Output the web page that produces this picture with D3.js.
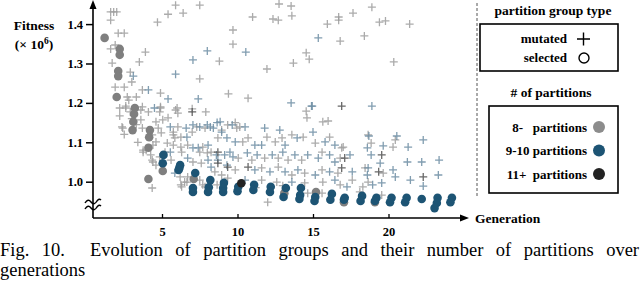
<!DOCTYPE html>
<html>
<head>
<meta charset="utf-8">
<script src="https://cdn.jsdelivr.net/npm/d3@7"></script>
<style>
  body { margin: 0; background: #fff; }
  svg text { font-family: "Liberation Serif", "Times New Roman", serif; }
</style>
</head>
<body>
<div id="svganchor"></div>
<script>
let width = 640, height = 282;

// x and y ticks
let genTicks = [5, 10, 15, 20];
let fitTicks = [1.0, 1.1, 1.2, 1.3, 1.4];

// mutated partition groups: [generation, fitness (x 10^6)]
let mutGray = [
  [1.6,1.431],[1.8,1.431],[2.0,1.431],[1.6,1.41],[2.1,1.377],[2.5,1.377],[1.6,1.337],[1.9,1.347],
  [3.9,1.329],[1.7,1.301],[3.5,1.304],[4.7,1.405],[5.4,1.425],[6.4,1.428],[5.9,1.448],[7.5,1.448],
  [9.7,1.385],[9.7,1.349],[8.8,1.306],[7.5,1.261],[9.4,1.223],[1.9,1.24],[2.5,1.24],[3.0,1.253],
  [2.9,1.278],[3.7,1.233],[4.9,1.225],[2.7,1.215],[2.8,1.207],[3.3,1.215],[2.6,1.192],[3.7,1.19],
  [4.9,1.19],[6.0,1.187],[7.0,1.185],[12.75,1.451],[13.55,1.446],[11.0,1.418],[12.35,1.413],
  [12.7,1.41],[13.6,1.421],[11.95,1.286],[13.7,1.301],[14.55,1.327],[14.75,1.311],[15.95,1.4],
  [16.7,1.418],[16.7,1.41],[16.8,1.357],[10.7,1.212],[17.65,1.428],[18.9,1.443],[19.4,1.405],
  [19.8,1.408],[21.4,1.4],[18.4,1.37],[20.35,1.304],
  [2.2,1.187],[2.6,1.187],[2.9,1.177],[3.6,1.182],[4.1,1.177],[4.9,1.187],[4.85,1.177],[5.9,1.182],
  [6.05,1.174],[7.9,1.177],[2.4,1.136],[3.7,1.136],[3.6,1.157],[4.6,1.152],[5.05,1.157],[5.4,1.162],
  [4.75,1.136],[4.95,1.124],[5.75,1.126],[6.05,1.139],[7.85,1.136],[6.25,1.113],[5.85,1.111],
  [4.6,1.101],[4.4,1.093],[3.75,1.08],[3.95,1.08],[4.25,1.068],[4.4,1.05],[4.6,1.042],[5.75,1.093],
  [6.25,1.088],[6.7,1.093],[7.7,1.088],[8.25,1.075],[7.05,1.05],[7.6,1.047],[8.5,1.025],[6.2,1.012],
  [6.25,0.992],[6.5,0.999],[6.7,1.012],[7.5,1.004],[7.7,0.992],[4.35,0.984],[4.85,1.063],[2.35,1.139],
  [2.2,1.167],[4.35,1.119],[3.75,1.075],[4.35,1.055],[5.35,1.098],[5.75,1.119],[6.3,1.075],[7.0,1.126],
  [7.3,1.139],[8.95,1.131],[9.95,1.136],[7.5,1.075],[8.0,1.073],[8.95,1.017],[8.65,0.992],[7.85,0.987],
  [6.65,0.999],[6.3,0.987],[3.0,1.16],[3.3,1.145],[2.5,1.12],[3.4,1.1],[5.2,1.075],[5.6,1.055],
  [14.55,1.179],[14.6,1.162],[15.65,1.152],[16.0,1.154],[9.35,1.144],[9.85,1.15],[10.15,1.139],
  [8.7,1.111],[10.35,1.101],[10.7,1.111],[11.95,1.113],[12.5,1.101],[12.95,1.111],[13.6,1.119],
  [14.35,1.113],[15.15,1.098],[16.1,1.113],[16.9,1.086],[10.05,1.06],[10.95,1.055],[11.8,1.06],
  [12.7,1.06],[13.35,1.055],[14.25,1.055],[15.6,1.075],[16.8,1.06],[9.85,1.03],[11.6,1.035],
  [12.7,1.037],[13.6,1.017],[14.45,1.022],[15.6,1.03],[16.65,1.022],[9.35,1.009],[11.6,1.004],
  [12.6,0.999],[14.45,0.997],[15.65,0.999],[16.8,0.992],[12.0,0.948],[15.6,0.971],[14.65,0.971],
  [18.85,1.098],[20.45,1.106],[20.3,1.088],[17.0,1.088],[18.45,1.035],[19.65,1.022],[17.6,1.004],
  [18.65,0.999],[18.3,0.987],[19.55,0.966],[18.1,0.974],[18.65,1.119],[13.0,0.99],[11.2,0.985]
];
let mutBlue = [
  [8.0,1.332],[7.05,1.309],[5.9,1.273],[7.4,1.21],[3.1,1.268],[4.1,1.233],[5.4,1.21],[10.55,1.329],
  [15.35,1.365],[13.55,1.2],[14.9,1.192],[18.9,1.192],[4.5,1.187],[5.55,1.139],[6.6,1.136],
  [7.05,1.144],[7.5,1.139],[8.2,1.139],[8.4,1.136],[5.55,1.075],[7.05,1.086],[7.4,1.086],[8.05,1.093],
  [8.6,1.068],[6.7,1.06],[8.05,1.055],[8.25,1.037],[5.85,1.022],[6.65,1.113],[8.0,1.144],[8.65,1.15],
  [9.65,1.144],[8.7,1.055],[9.3,1.042],[9.7,1.063],[14.95,1.192],[8.85,1.152],[10.5,1.139],
  [8.95,1.126],[9.3,1.111],[9.85,1.101],[11.15,1.093],[11.8,1.136],[11.6,1.093],[12.8,1.131],
  [13.15,1.093],[13.95,1.111],[15.0,1.126],[15.8,1.101],[16.45,1.093],[9.15,1.068],[9.5,1.075],
  [10.65,1.073],[11.3,1.068],[12.3,1.068],[13.0,1.075],[13.8,1.068],[14.65,1.068],[15.35,1.06],
  [16.1,1.068],[16.45,1.05],[11.15,1.03],[12.15,1.025],[13.15,1.025],[14.0,1.03],[15.15,1.017],
  [16.1,1.025],[10.5,1.004],[13.6,0.999],[16.45,1.004],[18.7,1.116],[18.6,1.086],[20.55,1.116],
  [19.65,1.091],[21.3,1.088],[22.3,1.106],[17.45,1.068],[18.85,1.068],[21.25,1.05],[22.2,1.05],
  [23.35,1.055],[18.65,1.035],[19.45,1.047],[20.3,1.03],[20.45,1.012],[21.45,1.004],[22.3,0.989],
  [23.3,1.017],[17.6,1.025],[18.6,1.017],[18.95,0.992],[19.55,0.997],[17.25,0.987]
];
let mutDark = [
  [16.9,1.192],[7.0,1.177],[8.7,1.075],[8.7,1.047],[9.35,1.037],[10.7,1.037],[16.9,1.035],
  [17.1,1.06],[19.55,1.068],[19.35,1.025],[22.3,1.012]
];

// selected partition groups, by number of partitions
let selGray = [
  [1.2,1.365],[2.2,1.337],[2.2,1.322],[2.1,1.281],[2.1,1.268],[2.0,1.215],[3.2,1.187],[3.15,1.172],
  [3.1,1.152],[3.05,1.131],[4.2,1.131],[4.15,1.113],[4.1,1.086],[4.1,1.007],[5.05,1.027],[7.1,1.007],
  [13.1,0.971],[15.2,0.974],[17.05,0.948],[19.1,0.948]
];
let selBlue = [
  [5.1,1.068],[5.05,1.047],[6.2,1.042],[6.15,1.035],[6.1,1.03],[7.2,1.022],[7.05,0.984],[7.05,0.974],
  [8.2,1.004],[8.1,0.986],[8.05,0.974],[9.1,0.997],[9.05,0.984],[9.05,0.974],[10.05,0.987],[10.0,0.976],
  [11.1,0.992],[11.05,0.979],[12.2,0.987],[12.15,0.974],[13.2,0.984],[13.05,0.961],[14.2,0.984],
  [14.15,0.966],[14.1,0.956],[15.15,0.961],[15.1,0.951],[16.25,0.969],[16.15,0.954],[17.1,0.959],
  [17.05,0.954],[18.25,0.964],[18.15,0.951],[19.2,0.959],[19.1,0.951],[20.2,0.959],[20.1,0.948],
  [21.2,0.959],[21.1,0.948],[22.2,0.956],[23.25,0.959],[23.2,0.946],[23.05,0.933],[24.2,0.959],
  [24.1,0.948]
];
let selDark = [[10.25,0.996]];

let legendTypes = ["mutated", "selected"];
let legendCounts = ["8-   partitions", "9-10 partitions", "11+  partitions"];
let captionLine1 = ["Fig.", "10.", "Evolution", "of", "partition", "groups", "and", "their", "number", "of", "partitions", "over"];
let captionLine2 = "generations";

let colGray = "#9c9c9c", colBlue = "#6b8ca2", colDark = "#4d4d4d";
let selCols = ["#7f7f7f", "#1d5474", "#232323"];

let svg = d3.select("#svganchor").append("svg")
    .attr("width", width)
    .attr("height", height);

let xScale = d3.scaleLinear().domain([0, 25]).range([86.5, 464]);
let yScale = d3.scaleLinear().domain([1.0, 1.4]).range([181.7, 24.1]);

let axisX0 = 93, axisY0 = 218;

// mutated crosses
function drawCrosses(data, color) {
    svg.append("g").selectAll("path")
        .data(data)
        .enter().append("path")
        .attr("d", "M-4,0H4M0,-4V4")
        .attr("transform", d => "translate(" + xScale(d[0]) + "," + yScale(d[1]) + ")")
        .attr("stroke", color)
        .attr("stroke-width", 1.3)
        .attr("opacity", 0.85)
        .attr("fill", "none");
}
drawCrosses(mutGray, colGray);
drawCrosses(mutBlue, colBlue);
drawCrosses(mutDark, colDark);

// selected circles
[selGray, selBlue, selDark].forEach((data, i) => {
    svg.append("g").selectAll("circle")
        .data(data)
        .enter().append("circle")
        .attr("cx", d => xScale(d[0]))
        .attr("cy", d => yScale(d[1]))
        .attr("r", 4.3)
        .attr("fill", selCols[i]);
});

// axes lines with arrows
svg.append("line")
    .attr("x1", axisX0).attr("y1", axisY0)
    .attr("x2", axisX0).attr("y2", 6)
    .attr("stroke", "#000").attr("stroke-width", 1.6);
svg.append("path")
    .attr("d", "M" + axisX0 + ",0L" + (axisX0 - 3.5) + ",9L" + (axisX0 + 3.5) + ",9Z")
    .attr("fill", "#000");
svg.append("line")
    .attr("x1", axisX0).attr("y1", axisY0)
    .attr("x2", 462).attr("y2", axisY0)
    .attr("stroke", "#000").attr("stroke-width", 1.6);
svg.append("path")
    .attr("d", "M469," + axisY0 + "L460," + (axisY0 - 3.5) + "L460," + (axisY0 + 3.5) + "Z")
    .attr("fill", "#000");

// y ticks
let yAxis = d3.axisLeft(yScale).tickValues(fitTicks).tickFormat(d3.format(".1f")).tickSize(7).tickPadding(3);
let gy = svg.append("g").attr("transform", "translate(" + axisX0 + ",0)").call(yAxis);
gy.select(".domain").remove();
gy.selectAll("line").attr("stroke-width", 1.5);
gy.selectAll("text").attr("font-size", 12.5).attr("font-weight", "bold")
    .style("font-family", "'Liberation Serif', serif");

// x ticks (pointing inward)
let xAxis = d3.axisBottom(xScale).tickValues(genTicks).tickSizeInner(-4).tickSizeOuter(0).tickPadding(9);
let gx = svg.append("g").attr("transform", "translate(0," + axisY0 + ")").call(xAxis);
gx.select(".domain").remove();
gx.selectAll("line").attr("stroke-width", 1.3);
gx.selectAll("text").attr("font-size", 12.5).attr("font-weight", "bold")
    .style("font-family", "'Liberation Serif', serif");

// axis break mark
[-3, 3].forEach(dy => {
    svg.append("path")
        .attr("d", "M" + (axisX0 - 8) + "," + (204 + dy + 2) + "q3,-5 6,-1q3,4 6,-1q2,-3 4,-1")
        .attr("fill", "none").attr("stroke", "#000").attr("stroke-width", 1.4);
});

// axis titles
svg.append("text").attr("x", 34).attr("y", 30).attr("text-anchor", "middle")
    .attr("font-size", 13.5).attr("font-weight", "bold").text("Fitness");
let t2 = svg.append("text").attr("x", 34).attr("y", 49).attr("text-anchor", "middle")
    .attr("font-size", 13.5).attr("font-weight", "bold");
t2.append("tspan").text("(\u00d7 10");
t2.append("tspan").attr("dy", -5).attr("font-size", 9.5).text("6");
t2.append("tspan").attr("dy", 5).text(")");
svg.append("text").attr("x", 475).attr("y", 223)
    .attr("font-size", 13.5).attr("font-weight", "bold").text("Generation");

// legend
svg.append("line").attr("x1", 477).attr("y1", 3).attr("x2", 477).attr("y2", 197)
    .attr("stroke", "#555").attr("stroke-width", 1).attr("stroke-dasharray", "3,2");
svg.append("text").attr("x", 553).attr("y", 15).attr("text-anchor", "middle")
    .attr("font-size", 13.5).attr("font-weight", "bold").text("partition group type");
svg.append("rect").attr("x", 480).attr("y", 24).attr("width", 138).attr("height", 47)
    .attr("fill", "none").attr("stroke", "#000").attr("stroke-width", 1.6);
legendTypes.forEach((t, i) => {
    let y = 39 + i * 19;
    svg.append("text").attr("x", 567).attr("y", y + 4).attr("text-anchor", "end")
        .attr("font-size", 13).attr("font-weight", "bold").text(t);
    if (i === 0) {
        svg.append("path").attr("d", "M577," + y + "H590M583.5," + (y - 6.5) + "V" + (y + 6.5))
            .attr("stroke", "#000").attr("stroke-width", 1.4);
    } else {
        svg.append("circle").attr("cx", 584).attr("cy", y).attr("r", 5)
            .attr("fill", "none").attr("stroke", "#000").attr("stroke-width", 1.4);
    }
});
svg.append("text").attr("x", 551).attr("y", 97).attr("text-anchor", "middle")
    .attr("font-size", 13.5).attr("font-weight", "bold").text("# of partitions");
svg.append("rect").attr("x", 489).attr("y", 106).attr("width", 129).attr("height", 87)
    .attr("fill", "none").attr("stroke", "#000").attr("stroke-width", 1.6);
let legCols = ["#8c8c8c", "#1d5474", "#232323"];
legendCounts.forEach((t, i) => {
    let y = 127 + i * 23.5;
    svg.append("text").attr("x", 587).attr("y", y + 4.5).attr("text-anchor", "end")
        .attr("font-size", 13).attr("font-weight", "bold")
        .attr("xml:space", "preserve").style("white-space", "pre").text(t);
    svg.append("circle").attr("cx", 599).attr("cy", y).attr("r", 6).attr("fill", legCols[i]);
});

// caption, first line justified
let capSize = 18.5;
let words = svg.append("g").selectAll("text")
    .data(captionLine1)
    .enter().append("text")
    .attr("y", 256)
    .attr("font-size", capSize)
    .text(d => d);
let widths = [];
words.each(function() { widths.push(this.getComputedTextLength()); });
let total = d3.sum(widths);
let gaps = captionLine1.length - 1 + 1; // extra gap after "10."
let gap = (639 - total) / gaps;
let xpos = 0;
words.attr("x", (d, i) => {
    let x = xpos;
    xpos += widths[i] + gap * (i === 1 ? 2 : 1);
    return x;
});
svg.append("text").attr("x", 0).attr("y", 276)
    .attr("font-size", capSize).text(captionLine2);
</script>
</body>
</html>
